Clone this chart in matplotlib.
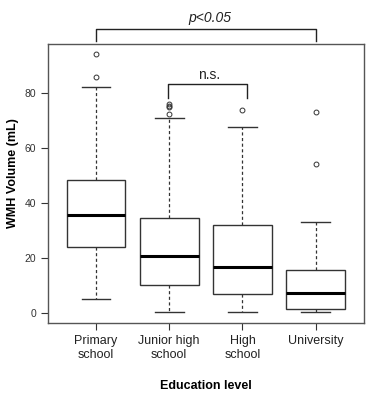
#!/usr/bin/env python3
"""WMH volume by education level, R-style boxplot recreated in matplotlib."""

import matplotlib
matplotlib.use("Agg")
import matplotlib.pyplot as plt

plt.rcParams['font.family'] = ['Liberation Sans', 'DejaVu Sans']

# Box statistics (mL)
categories = ["Primary\nschool", "Junior high\nschool", "High\nschool", "University"]
whislo = [5.3, 0.6, 0.6, 0.4]
q1 = [24.0, 10.3, 7.0, 1.5]
medians = [35.7, 20.7, 16.9, 7.3]
q3 = [48.5, 34.8, 32.0, 15.9]
whishi = [82.3, 70.9, 67.9, 33.2]
outliers = [
    [94.2, 86.0],
    [76.1, 75.4, 74.9, 72.6],
    [73.9],
    [73.2, 54.2],
]
y_ticks = [0, 20, 40, 60, 80]

stats = []
for i, name in enumerate(categories):
    stats.append({
        'label': name, 'whislo': whislo[i], 'q1': q1[i], 'med': medians[i],
        'q3': q3[i], 'whishi': whishi[i], 'fliers': outliers[i],
    })

fig = plt.figure(figsize=(3.79, 4.0), dpi=100)
ax = fig.add_axes([47.7 / 379, 1 - 322.7 / 400, (364 - 47.7) / 379, (322.7 - 43.7) / 400])

dark = '#333333'
ax.bxp(
    stats, positions=[1, 2, 3, 4], widths=0.8, patch_artist=True,
    boxprops=dict(facecolor='white', edgecolor=dark, linewidth=1.0),
    medianprops=dict(color='black', linewidth=2.2),
    whiskerprops=dict(color=dark, linewidth=0.9, linestyle=(0, (2.5, 2))),
    capprops=dict(color=dark, linewidth=1.0),
    capwidths=0.39,
    flierprops=dict(marker='o', markersize=3.5, markerfacecolor='none',
                    markeredgecolor=dark, markeredgewidth=0.7),
)

ax.set_xlim(0.34, 4.66)
ax.set_ylim(-3.4, 98.0)
ax.set_yticks(y_ticks)
ax.set_yticklabels([str(t) for t in y_ticks], fontsize=7.5, color=dark)
ax.set_xticks([1, 2, 3, 4])
ax.set_xticklabels(categories, fontsize=9, color='#222222', linespacing=1.2)
ax.tick_params(axis='both', direction='out', length=5, color=dark, width=0.8)
ax.tick_params(axis='x', pad=4)
for sp in ax.spines.values():
    sp.set_color('#555555')
    sp.set_linewidth(1.0)

ax.set_xlabel("Education level", fontsize=9, fontweight='bold', labelpad=14)
ax.set_ylabel("WMH Volume (mL)", fontsize=9, fontweight='bold', va='center')
ax.yaxis.set_label_coords(-0.11, 0.535)

# significance brackets
ax.plot([1, 1, 4, 4], [98.8, 103.4, 103.4, 98.8], color='#222222', lw=1.0, clip_on=False)
ax.text(2.56, 107.5, "p<0.05", style='italic', fontsize=10, ha='center', va='center', color='#222222')
ax.plot([1.98, 1.98, 3.06, 3.06], [78.4, 83.5, 83.5, 78.4], color='#222222', lw=1.0)
ax.text(2.55, 86.8, "n.s.", fontsize=10, ha='center', va='center', color='#222222')

fig.savefig("out.png", dpi=100, facecolor='white')
